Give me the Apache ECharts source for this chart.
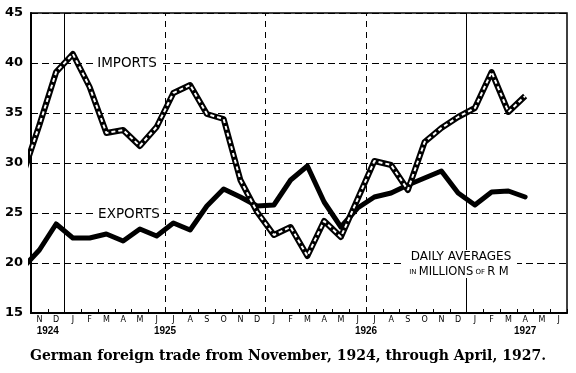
<!DOCTYPE html>
<html><head><meta charset="utf-8">
<script src="https://cdn.jsdelivr.net/npm/echarts@6/dist/echarts.min.js"></script>
<style>html,body{margin:0;padding:0;background:#fff}#c{width:576px;height:373px}</style>
</head><body><div id="c"></div>
<script>
// Month letters, Nov 1924 .. Jun 1927 (axis categories)
const months = ['N','D','J','F','M','A','M','J','J','A','S','O','N','D','J','F','M','A','M','J','J','A','S','O','N','D','J','F','M','A','M','J'];
// Series start with Oct 1924 (month index -1, clipped at the left edge), then Nov 1924 .. Apr 1927
const firstIndex = -1;
const imports = [28.8, 33.8, 39.1, 40.9, 37.6, 33.0, 33.3, 31.7, 33.6, 37.0, 37.8, 34.9, 34.4, 28.3, 25.1, 22.8, 23.6, 20.7, 24.2, 22.6, 26.4, 30.2, 29.8, 27.3, 32.1, 33.5, 34.6, 35.5, 39.1, 35.1, 36.7];
const exportsV = [19.5, 21.3, 23.9, 22.5, 22.5, 22.9, 22.2, 23.4, 22.7, 24.0, 23.3, 25.7, 27.4, 26.6, 25.7, 25.8, 28.3, 29.7, 26.1, 23.6, 25.5, 26.6, 27.0, 27.8, 28.5, 29.2, 27.0, 25.8, 27.1, 27.2, 26.6];
// y ticks
const yMin = 15, yMax = 45, yStep = 5;
// half-year division lines (between months), solid ones at year ends
const divisions = [1.5, 7.5, 13.5, 19.5, 25.5];
const divisionSolid = [true, false, false, false, true];
// year labels and the month index they are centred on
const yearLabels = ['1924', '1925', '1926', '1927'];
const yearCentres = [0.5, 7.5, 19.5, 29];

const toPairs = arr => arr.map((v, i) => [firstIndex + i, v]);

const chart = echarts.init(document.getElementById('c'), null, {renderer: 'canvas'});
const option = {
  animation: false,
  backgroundColor: '#fff',
  grid: {left: 31, right: 9, top: 13, bottom: 60, show: true, borderColor: '#000', borderWidth: 1.5, backgroundColor: 'transparent'},
  title: {
    text: 'German foreign trade from November, 1924, through April, 1927.',
    left: 'center', top: 344,
    textStyle: {fontFamily: 'DejaVu Serif', fontWeight: 'bold', fontSize: 14, color: '#000'}
  },
  xAxis: [
    {type: 'value', min: -0.5, max: 31.5, show: false, splitLine: {show: false}},
    {type: 'category', data: months, boundaryGap: true, position: 'bottom',
     axisLine: {show: true, onZero: false, lineStyle: {color: '#000', width: 2}},
     axisTick: {show: true, inside: true, length: 4, interval: 0, lineStyle: {color: '#000', width: 1}},
     axisLabel: {interval: 0, fontSize: 8, fontFamily: 'DejaVu Sans', color: '#000', margin: 3},
     splitLine: {show: false}}
  ],
  yAxis: {
    type: 'value', min: yMin, max: yMax, interval: yStep,
    axisLine: {show: true, onZero: false, lineStyle: {color: '#000', width: 2}},
    axisTick: {show: false},
    axisLabel: {fontSize: 13, fontWeight: 'bold', fontFamily: 'DejaVu Sans', color: '#000', margin: 8},
    splitLine: {show: true, lineStyle: {color: '#000', width: 1, type: [7, 4]}}
  },
  series: [
    {
      name: 'Exports', type: 'line', xAxisIndex: 0, data: toPairs(exportsV),
      symbol: 'none', clip: true, z: 3,
      lineStyle: {color: '#000', width: 5, cap: 'round', join: 'round'},
      markLine: {
        silent: true, symbol: 'none', label: {show: false},
        data: divisions.map((d, i) => ({xAxis: d, lineStyle: {color: '#000', width: 1, type: divisionSolid[i] ? 'solid' : [6, 5]}}))
      }
    },
    {
      name: 'Imports', type: 'line', xAxisIndex: 0, data: toPairs(imports),
      symbol: 'none', clip: true, z: 4,
      lineStyle: {color: '#000', width: 6, join: 'round'}
    },
    {
      name: 'Imports inner', type: 'line', xAxisIndex: 0, data: toPairs(imports),
      symbol: 'none', clip: true, z: 5,
      lineStyle: {color: '#fff', width: 2, type: [4, 3]}
    }
  ]
};
chart.setOption(option);

const px = (xv, yv) => chart.convertToPixel({xAxisIndex: 0, yAxisIndex: 0}, [xv, yv]);
const baseY = px(0, yMin)[1];
const graphics = [];
yearLabels.forEach((t, i) => {
  const p = px(yearCentres[i], yMin);
  graphics.push({type: 'text', x: p[0], y: baseY + 18, style: {text: t, fill: '#000', font: 'bold 10px "Liberation Sans"', textAlign: 'center', textVerticalAlign: 'middle'}});
});
// annotations
graphics.push({type: 'text', x: 127, y: 63, z: 10, style: {text: 'IMPORTS', fill: '#000', font: '13.5px "DejaVu Sans"', textAlign: 'center', textVerticalAlign: 'middle', backgroundColor: '#fff', padding: [1, 3]}});
graphics.push({type: 'text', x: 129, y: 214, z: 10, style: {text: 'EXPORTS', fill: '#000', font: '13.5px "DejaVu Sans"', textAlign: 'center', textVerticalAlign: 'middle', backgroundColor: '#fff', padding: [1, 3]}});
graphics.push({type: 'rect', z: 9, shape: {x: 401, y: 250, width: 116, height: 28}, style: {fill: '#fff'}});
graphics.push({type: 'text', x: 461, y: 257, z: 10, style: {text: 'DAILY AVERAGES', fill: '#000', font: '12px "DejaVu Sans"', textAlign: 'center', textVerticalAlign: 'middle'}});
graphics.push({type: 'text', x: 459, y: 272, z: 10, style: {
  rich: {s: {fontSize: 7, fontFamily: 'DejaVu Sans', fill: '#000'}, b: {fontSize: 11.5, fontFamily: 'DejaVu Sans', fill: '#000'}},
  text: '{s|IN }{b|MILLIONS}{s| OF }{b|R M}', textAlign: 'center', textVerticalAlign: 'middle'}});
chart.setOption({graphic: graphics});
</script>
</body></html>
